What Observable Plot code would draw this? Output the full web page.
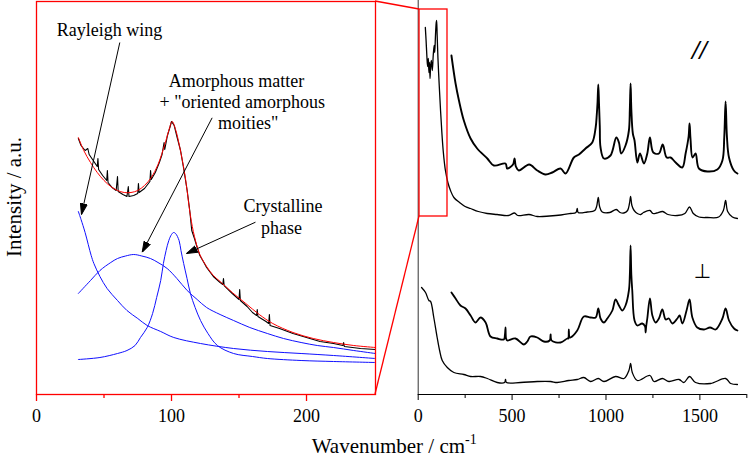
<!DOCTYPE html>
<html><head><meta charset="utf-8">
<script src="https://cdn.jsdelivr.net/npm/d3@7"></script>
<script src="https://cdn.jsdelivr.net/npm/@observablehq/plot@0.6"></script>
<style>
body{margin:0;background:#fff;}
#chart{position:relative;width:749px;height:462px;}
#chart svg{position:absolute;left:0;top:0;}
#chart svg, #chart svg text{font-family:'Liberation Serif',serif !important;}
#chart svg text.sym{font-family:'DejaVu Sans',sans-serif !important;}
</style></head><body><div id="chart"></div>
<script>
// ---------- Inset (0–250 cm-1): [wavenumber, intensity a.u.] ----------
const insetMeasured = [[31,256],[33,249],[36,244],[38,246],[39,240],[42,234],[45,228],[45.5,236],[46,225],[49,219],[52,214],[52.5,224],[53,212],[56,207],[59,204],[60,218],[60.5,203],[64,200],[67,198],[68,208],[68.5,198],[72,199],[75,201],[75.5,211],[76,202],[80,206],[84,213],[84.5,224],[85,215],[88,222],[91,232],[93,240],[94.5,252],[95,245],[97,259],[99,268],[100,273],[102,269],[104,258],[106.7,244],[109,226],[111.6,204],[113.5,184],[115,164],[117,156],[119,147],[121,139],[124,132],[126,127],[131,118],[136,112],[138,110],[138.5,116],[139,109],[145,101],[150,95],[150.5,105],[151,94],[156,88],[160,82],[163,79],[163.5,85],[164,78],[170,73],[172,71],[172.5,80],[173,69],[180,66],[190,61],[200,57],[210,53],[220,51],[227,49],[227.5,52],[228,48],[240,46],[251,45]];
const insetFit = [[31,257],[35,244],[40,232],[45,222],[50,214],[55,208],[60,204],[65,202],[70,202],[75,204],[80,209],[85,217],[90,230],[95,250],[98,264],[100.5,273],[103,265],[106,248],[110,219],[114,179],[117,158],[121,140],[126,128],[131,119],[136,113],[145,102],[155,91],[165,80],[175,71],[190,62],[205,56],[220,52],[235,49],[251,47]];
const rayleighWing = [[31,183],[33,175],[36,162],[40.5,139],[42.5,131],[47,118],[52.3,106],[60,94],[67,84],[75,76],[82,69],[92,63],[101.7,57],[121.5,51],[146,46],[171,43],[196,41],[220,39],[251,36]];
const amorphousBand = [[31,101],[40,114],[47,124],[55,132],[60,136],[66,138.5],[72,140],[78,138.5],[84.4,136],[90,132],[96.8,126],[104,116],[111.6,104],[119,95],[126,87],[136,80],[146,74],[158,67],[171,61],[183,56],[196,52],[208,49],[220,47],[235,44],[251,41]];
const crystallineBand = [[31,35],[47,37],[60,41],[67,44],[73,49],[77,57],[82,67],[86,81],[89,97],[92,114],[94,131],[96,144],[98,154],[100,160],[101.5,162],[103,161],[105.6,154],[107,144],[109,131],[111.5,116],[114,101],[117.5,87],[121.5,74],[127,61],[134,49],[146,41],[160,38],[171,36],[196,34],[220,33],[251,32]];

// ---------- Full spectra (0–1750 cm-1) ----------
const parallelFull = [[38,367],[42,354],[46,339],[50,328],[54,336],[57,322],[60,332],[63,316],[66,328],[70,334],[75,324],[80,339],[85,349],[88,342],[92,359],[96,372],[98,374],[101,359],[105,337],[112,309],[119,284],[126,262],[133,244],[140,231],[145,224],[158,212],[172,204],[190,197],[220,192],[250,188],[279,186],[320,183],[367,181],[420,180],[480,179],[513,181.5],[530,179],[590,180],[634,178],[700,178.5],[760,179.5],[811,181],[840,182],[847,186],[852,182],[900,182.5],[940,184],[950,188],[959,197],[966,188],[980,182.5],[1020,182],[1055,185],[1075,182],[1095,181.5],[1115,184],[1125,191],[1131,198],[1138,189],[1150,184],[1167,181],[1185,180],[1200,182],[1234,184],[1250,181],[1270,181.5],[1302,183],[1330,180],[1380,179],[1420,181],[1445,187.5],[1465,181],[1495,177.5],[1540,177],[1600,177.5],[1625,184],[1637,194],[1648,183],[1673,177.5],[1700,176]];
const parallelExpanded = [[177,339],[199,311],[217,294],[243,274],[279,256],[314,246],[368,236],[403,229],[465,231],[474,226],[505,230],[513,236],[520,228],[536,224],[591,230],[634,224],[678,220],[714,222],[758,226],[785,221],[829,237],[856,240],[891,246],[927,252],[945,267],[951,280],[955,292],[959,310],[963,290],[967,268],[971,247],[989,236],[1024,239],[1055,257],[1069,252],[1081,241],[1104,249],[1122,264],[1127,285],[1131,311],[1135,285],[1143,261],[1152,254],[1167,232],[1181,241],[1202,231],[1220,241],[1234,257],[1252,242],[1282,241],[1302,250],[1323,237],[1344,237],[1371,232],[1406,227],[1424,241],[1440,258],[1445,271],[1450,256],[1461,237],[1477,241],[1495,226],[1540,223],[1593,225],[1620,234],[1630,258],[1637,293],[1644,258],[1655,237],[1681,224],[1700,221]];
const perpFull = [[18,107],[39,102],[57,94],[66,93],[83,77],[101,57],[114,44],[128,34],[155,27],[190,22],[243,20],[279,18],[332,18],[368,16],[421,12],[460,12],[465,15],[470,12],[545,12],[634,13],[705,13],[740,12],[802,14],[847,15],[882,17],[918,13],[959,16],[989,13],[1051,18],[1096,16],[1122,24],[1131,31],[1140,22],[1167,14],[1234,19],[1255,13],[1300,16],[1335,13],[1389,15],[1415,12],[1445,18],[1477,12],[1557,11],[1637,16],[1664,11],[1700,10]];
const perpExpanded = [[177,102],[199,96],[225,89],[252,86],[279,79],[305,72],[332,77],[359,72],[385,58],[421,56],[456,55],[462,60],[465,67],[468,56],[474,54],[518,56],[563,50],[581,53],[598,58],[634,57],[669,53],[700,54],[705,60],[710,54],[758,52],[794,56],[799,56],[802,65],[806,57],[811,57],[847,64],[882,78],[918,77],[945,77],[959,86],[971,76],[989,72],[1007,76],[1034,84],[1051,95],[1069,89],[1087,84],[1104,89],[1122,104],[1127,120],[1131,149],[1135,120],[1140,104],[1152,74],[1167,69],[1193,71],[1208,68],[1211,62],[1214,68],[1220,76],[1234,96],[1247,79],[1264,72],[1282,76],[1300,85],[1318,75],[1335,76],[1353,71],[1380,76],[1392,79],[1407,71],[1429,84],[1445,95],[1460,77],[1486,67],[1522,65],[1554,67],[1584,65],[1620,76],[1637,86],[1655,74],[1682,66],[1700,64]];

// ---------- ticks, zoom box, labels ----------
const insetTicks = [0, 100, 200];
const insetMinorTicks = [50, 150];
const fullTicks = [0, 500, 1000, 1500];
const fullMinorTicks = [250, 750, 1250, 1750];
const zoomBox = {x1: 7, x2: 156, y1: 178, y2: 385};
const insetLabels = [
  {x: 54.1, y: 359, text: "Rayleigh wing"},
  {x: 148.1, y: 307.3, text: "Amorphous matter"},
  {x: 152.4, y: 286.3, text: "+ \"oriented amorphous"},
  {x: 156.7, y: 265.7, text: "moities\""},
  {x: 182.6, y: 182.3, text: "Crystalline"},
  {x: 181.5, y: 160.7, text: "phase"}
];
const insetArrows = [
  {x1: 61.7, y1: 352, x2: 33.3, y2: 180},
  {x1: 130.1, y1: 276.7, x2: 78.3, y2: 142.3},
  {x1: 162.2, y1: 172.3, x2: 111.1, y2: 141}
];
const polarLabels = [
  {x: 1498, y: 336, text: "//", style: "italic", weight: "bold", size: 27, cls: null},
  {x: 1512, y: 117, text: "⊥", style: "normal", weight: "normal", size: 20, cls: "sym"}
];

const X = d => d[0], Y = d => d[1];
const SVGNS = "http://www.w3.org/2000/svg";
function filledHead(color) {
  const m = document.createElementNS(SVGNS, "marker");
  m.setAttribute("viewBox", "0 -4 11 8");
  m.setAttribute("refX", "11"); m.setAttribute("refY", "0");
  m.setAttribute("markerUnits", "userSpaceOnUse");
  m.setAttribute("markerWidth", "11"); m.setAttribute("markerHeight", "8");
  m.setAttribute("orient", "auto");
  const p = document.createElementNS(SVGNS, "path");
  p.setAttribute("d", "M0,-3.5L11,0L0,3.5Z");
  p.setAttribute("fill", color || "black");
  m.appendChild(p);
  return m;
}

const font = "Liberation Serif";
const fmt = d => String(d);
function makeLeft(marker) {
  return Plot.plot({
    width: 749, height: 462,
    marginLeft: 36, marginRight: 374, marginTop: 1, marginBottom: 68,
    x: {domain: [0, 251.1]},
    y: {domain: [0, 393], axis: null},
    style: {fontFamily: font, fontSize: "18px", background: "transparent", overflow: "visible", color: "black"},
    marks: [
      Plot.line(crystallineBand, {x: X, y: Y, stroke: "#1010ff", strokeWidth: 1, curve: "catmull-rom"}),
      Plot.line(amorphousBand, {x: X, y: Y, stroke: "#1010ff", strokeWidth: 1, curve: "catmull-rom"}),
      Plot.line(rayleighWing, {x: X, y: Y, stroke: "#1010ff", strokeWidth: 1, curve: "catmull-rom"}),
      Plot.line(insetMeasured, {x: X, y: Y, stroke: "black", strokeWidth: 1.1}),
      Plot.line(insetFit, {x: X, y: Y, stroke: "red", strokeWidth: 1, curve: "catmull-rom"}),
      Plot.text(insetLabels, {x: "x", y: "y", text: "text", textAnchor: "middle", lineAnchor: "bottom", fontSize: 18, fill: "black"}),
      Plot.link(insetArrows, {x1: "x1", y1: "y1", x2: "x2", y2: "y2", stroke: "black", strokeWidth: 1, markerEnd: marker}),
      Plot.frame({stroke: "red", strokeWidth: 1.3}),
      Plot.axisX({ticks: insetTicks, tickSize: 7, tickPadding: 8, stroke: "red", strokeWidth: 1.3, tickFormat: fmt, label: null, fontSize: 18}),
      Plot.axisX({ticks: insetMinorTicks, tickSize: 4, stroke: "red", strokeWidth: 1.3, tickFormat: () => "", label: null})
    ]
  });
}
let left;
try { left = makeLeft(filledHead); } catch (e) { left = makeLeft("arrow"); }

const right = Plot.plot({
  width: 749, height: 462,
  marginLeft: 417.7, marginRight: 2.3, marginTop: 0, marginBottom: 68,
  x: {domain: [0, 1752]},
  y: {domain: [0, 394], axis: null},
  style: {fontFamily: font, fontSize: "18px", background: "transparent", overflow: "visible", color: "black"},
  marks: [
    Plot.ruleX([0], {stroke: "#333", strokeWidth: 1}),
    Plot.ruleY([0], {stroke: "black", strokeWidth: 1}),
    Plot.axisX({ticks: fullTicks, tickSize: 6, tickPadding: 9, stroke: "black", tickFormat: fmt, label: null, fontSize: 18}),
    Plot.axisX({ticks: fullMinorTicks, tickSize: 4, stroke: "black", tickFormat: () => "", label: null}),
    Plot.line(parallelExpanded, {x: X, y: Y, stroke: "black", strokeWidth: 1.9, curve: "catmull-rom"}),
    Plot.line(parallelFull, {x: X, y: Y, stroke: "black", strokeWidth: 1.3, curve: "catmull-rom"}),
    Plot.line(perpExpanded, {x: X, y: Y, stroke: "black", strokeWidth: 1.8, curve: "catmull-rom"}),
    Plot.line(perpFull, {x: X, y: Y, stroke: "black", strokeWidth: 1.3, curve: "catmull-rom"}),
    Plot.rect([zoomBox], {x1: "x1", x2: "x2", y1: "y1", y2: "y2", stroke: "red", strokeWidth: 1.3, fill: "none"}),
    Plot.text(polarLabels, {x: "x", y: "y", text: "text", fontSize: d => d.size, textAnchor: "middle", lineAnchor: "bottom", fill: "black"})
  ]
});
// per-label style for the polarization labels
d3.select(right).selectAll("g[aria-label='text'] text").each(function(_, i) {
  const d = polarLabels[i]; if (!d) return;
  const s = d3.select(this).style("font-style", d.style).style("font-weight", d.weight).attr("font-size", d.size);
  if (d.cls) s.classed(d.cls, true);
});

const chart = document.getElementById("chart");
chart.appendChild(left);
chart.appendChild(right);

// overlay: connectors (from both plots' scales) and axis titles
const lx = left.scale("x"), ly = left.scale("y"), rx = right.scale("x"), ry = right.scale("y");
const ov = d3.create("svg").attr("width", 749).attr("height", 462).style("overflow", "visible").attr("font-family", font);
const edgeX = lx.range[1];
[[ly.apply(393), ry.apply(zoomBox.y2)], [ly.apply(0), ry.apply(zoomBox.y1)]].forEach(([ya, yb]) => {
  ov.append("line").attr("x1", edgeX).attr("y1", ya).attr("x2", rx.apply(zoomBox.x1)).attr("y2", yb)
    .attr("stroke", "red").attr("stroke-width", 1.3);
});
ov.append("text").attr("transform", "translate(21,197) rotate(-90)").attr("text-anchor", "middle")
  .attr("font-family", font).attr("font-size", 21).text("Intensity / a.u.");
const wl = ov.append("text").attr("x", 311.7).attr("y", 453).attr("font-family", font).attr("font-size", 21);
wl.append("tspan").text("Wavenumber / cm");
wl.append("tspan").attr("dy", -9).attr("font-size", 14).text("-1");
chart.appendChild(ov.node());
</script></body></html>
